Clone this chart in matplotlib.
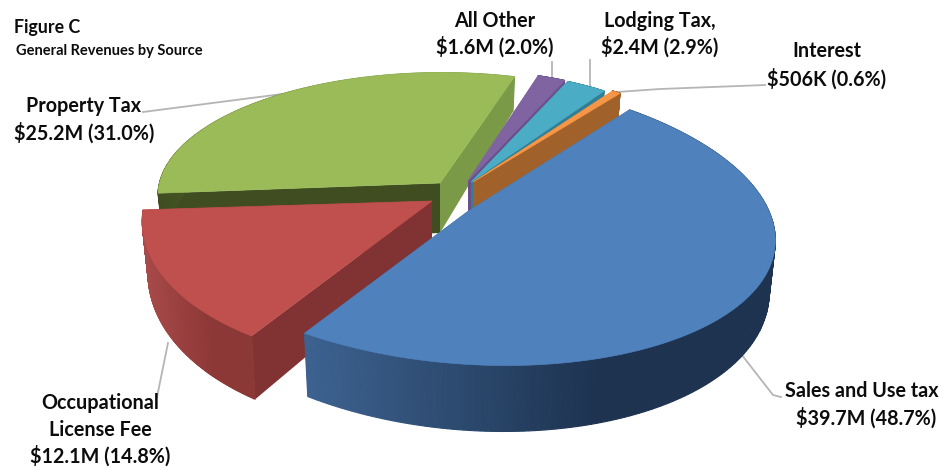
import numpy as np
import matplotlib
matplotlib.use('Agg')
import matplotlib.pyplot as plt
from matplotlib.colors import to_rgb

plt.rcParams['font.family'] = ['Lato', 'DejaVu Sans']

# clockwise from the top-right edge of the big slice
sources = ['Sales and Use tax', 'Occupational License Fee', 'Property Tax', 'All Other', 'Lodging Tax', 'Interest']
shares = [48.7, 14.8, 31.0, 2.0, 2.9, 0.6]
amounts = ['$39.7M', '$12.1M', '$25.2M', '$1.6M', '$2.4M', '$506K']

tops = ['#4f81bd', '#c0504d', '#9bbb59', '#8064a2', '#4bacc6', '#f79646']
walls_start = ['#2f4d73', '#803332', '#3f4d20', '#6a4f8a', '#307f94', '#a0622a']
walls_end = ['#2f4d73', '#803332', '#7a9a48', '#6a4f8a', '#307f94', '#a0622a']
outer_l = ['#3d6290', '#a8494a', '#3f4d20', '#6a4f8a', '#307f94', '#a0622a']
outer_r = ['#1d3350', '#8c3836', '#7a9a48', '#6a4f8a', '#307f94', '#a0622a']
# apex of each slice in the picture
apex = [(467, 212), (432, 201), (440, 183), (468, 181), (471, 182), (473, 182)]
# per slice tweaks: x scale, y scale, x shear, y shear, x shift of the rim, perspective
shape = [
    (1.04, 0.973, 21, 10, -2, 0.06),
    (0.97, 1.0, -10, 0, 0, 0.10),
    (0.95, 0.82, 6, -3, 0, 0.10),
    (0.83, 0.82, 0, 0, 0, 0.10),
    (0.83, 0.82, 0, 0, 0, 0.10),
    (0.87, 0.82, 0, 0, 0, 0.10),
]

START = 38.0
SX, SY = 296.0, 148.0
DEPTH = 50.0


def top_point(c, ang, tweak):
    fx, fy, shx, shy, dx, persp = tweak
    x = np.sin(ang)
    y = -np.cos(ang)
    w = 1 - persp * y
    return (c[0] + dx + fx * SX * x / w + shx * y,
            c[1] + fy * SY * y / w + shy * x,
            y)


def drop(px, py, y, c):
    # bottom face sits a little inward and lower towards the viewer
    return c[0] + (px - c[0]) * 0.98, py + DEPTH * (1 + 0.32 * y)


fig = plt.figure(figsize=(9.45, 4.68), dpi=100)
ax = fig.add_axes([0, 0, 1, 1])
ax.set_xlim(0, 945)
ax.set_ylim(468, 0)
ax.axis('off')

# leader lines go under the pie
leaders = [
    ([143, 290], [112, 93]),
    ([552, 552], [62, 80]),
    ([590, 590], [60, 88]),
    ([617, 660, 765], [92, 89, 85]),
    ([738, 773, 781], [350, 395, 397]),
    ([168, 157], [343, 397]),
]
for lx, ly in leaders:
    ax.plot(lx, ly, color='#b5b5b5', lw=1.3, zorder=1)

edges = START + np.cumsum([0] + shares) * 3.6
draw_order = [2, 3, 4, 5, 1, 0]
z = 2
for i in draw_order:
    a0, a1 = np.radians(edges[i]), np.radians(edges[i + 1])
    c = apex[i]
    ang = np.linspace(a0, a1, 180)
    pts = [top_point(c, a, shape[i]) for a in ang]
    xs = np.array([p[0] for p in pts])
    ys = np.array([p[1] for p in pts])
    vs = np.array([p[2] for p in pts])
    bottoms = [drop(px, py, v, c) for px, py, v in pts]
    bx = np.array([b[0] for b in bottoms])
    by = np.array([b[1] for b in bottoms])
    cb = (c[0], c[1] + DEPTH)

    # straight walls
    ax.fill([c[0], xs[0], bx[0], cb[0]], [c[1], ys[0], by[0], cb[1]], color=walls_start[i], lw=0, zorder=z)
    ax.fill([c[0], xs[-1], bx[-1], cb[0]], [c[1], ys[-1], by[-1], cb[1]], color=walls_end[i], lw=0, zorder=z)

    # curved wall, shaded left to right
    left, right = np.array(to_rgb(outer_l[i])), np.array(to_rgb(outer_r[i]))
    xmin, xmax = xs.min(), xs.max()
    for k in range(len(xs) - 1):
        t = ((xs[k] + xs[k + 1]) / 2 - xmin) / max(xmax - xmin, 1)
        col = left + (right - left) * min(t * 1.6, 1)
        ax.fill([xs[k], xs[k + 1], bx[k + 1], bx[k]], [ys[k], ys[k + 1], by[k + 1], by[k]],
                color=col, ec=col, lw=0.8, zorder=z)

    # top face
    ax.fill(np.r_[c[0], xs], np.r_[c[1], ys], color=tops[i], lw=0.5, zorder=z + 0.5)
    z += 1

txt = dict(color='#0c0c0c', fontweight='bold', ha='center', va='center', fontsize=14.2, zorder=20)
ax.text(14, 27, 'Figure C', color='#0c0c0c', fontweight='bold', fontsize=12.8, va='center')
ax.text(16, 51, 'General Revenues by Source', color='#0c0c0c', fontweight='bold', fontsize=10.5, va='center')
ax.text(83, 106, sources[2], **txt)
ax.text(84, 133, f'{amounts[2]} ({shares[2]:.1f}%)', **txt)
ax.text(495, 21, sources[3], **txt)
ax.text(495, 47, f'{amounts[3]} ({shares[3]:.1f}%)', **txt)
ax.text(660, 21, sources[4] + ',', **txt)
ax.text(660, 47, f'{amounts[4]} ({shares[4]:.1f}%)', **txt)
ax.text(827, 51, sources[5], **txt)
ax.text(827, 79, f'{amounts[5]} ({shares[5]:.1f}%)', **txt)
ax.text(862, 391, sources[0], **txt)
ax.text(866, 418, f'{amounts[0]} ({shares[0]:.1f}%)', **txt)
ax.text(100, 403, 'Occupational', **txt)
ax.text(100, 430, 'License Fee', **txt)
ax.text(100, 456, f'{amounts[1]} ({shares[1]:.1f}%)', **txt)

fig.savefig('out.png', dpi=100)
